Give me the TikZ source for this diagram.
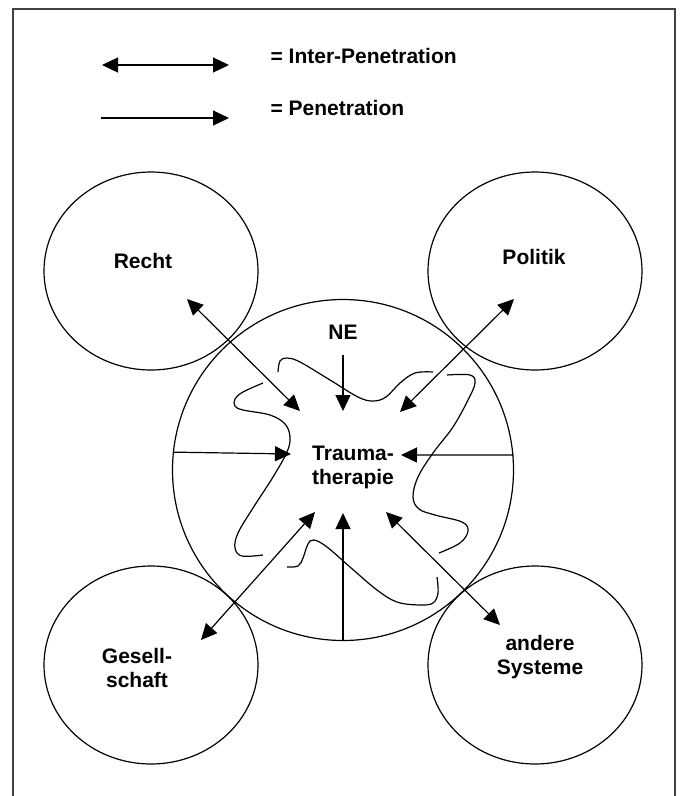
\documentclass[tikz,border=0pt]{standalone}
\usepackage{fontspec}
\setmainfont{Liberation Sans}
\usetikzlibrary{arrows.meta}
\usetikzlibrary{shapes.geometric}
\tikzset{pen/.style = {-{Triangle[length=16pt, width=15pt]}}}
\tikzset{twopen/.style = {{Triangle[length=16pt, width=15pt]}-{Triangle[length=16pt, width=15pt]}}}
\tikzset{sys/.style = {draw, ellipse, minimum width = 214pt, minimum height = 198pt, inner sep = 0}}
\tikzset{word/.style = {font = \bfseries\fontsize{21}{24}\selectfont, align = center, inner sep = 0}}
\tikzset{wave/.style = {smooth, tension = 0.6}}

\begin{document}
\begin{tikzpicture}[x = 1pt, y = -1pt, line width = 1.2pt]
  \useasboundingbox (0, 0) rectangle (680, 796);
  \draw [line width = 1.8pt, black!75] (13, 800) -- (13, 9) -- (675, 9) -- (675, 800);

  \coordinate (legInA) at (102, 65);
  \coordinate (legInB) at (229, 65);
  \coordinate (legPenA) at (101, 118);
  \coordinate (legPenB) at (229, 118);
  \draw [twopen] (legInA) -- (legInB);
  \draw [pen] (legPenA) -- (legPenB);
  \node [word, anchor = west] (inter) at (270, 56) {= Inter-Penetration};
  \node [word, anchor = west] (pene) at (270, 108) {= Penetration};

  \node [sys] (recht) at (151, 271) {};
  \node [sys] (politik) at (535, 271) {};
  \node [sys] (gesellschaft) at (151, 665) {};
  \node [sys] (andere) at (535, 665) {};
  \node [draw, circle, minimum size = 341pt, inner sep = 0] (trauma) at (343, 470) {};

  \node [word] (rechtText) at (143, 261) {Recht};
  \node [word] (politikText) at (534, 257) {Politik};
  \node [word] (gesText) at (137, 668) {Gesell-\\schaft};
  \node [word] (andereText) at (540, 657) {andere\\Systeme};
  \node [word] (traumaText) at (353, 467) {Trauma-\\therapie};
  \node [word] (ne) at (343, 332) {NE};

  \coordinate (rechtEnd) at (187, 299);
  \coordinate (rechtIn) at (300, 411);
  \coordinate (politikEnd) at (514, 299);
  \coordinate (politikIn) at (400, 412);
  \coordinate (gesEnd) at (201, 640);
  \coordinate (gesIn) at (315, 512);
  \coordinate (andereEnd) at (500, 625);
  \coordinate (andereIn) at (386, 512);
  \coordinate (neStart) at (343, 355);
  \coordinate (neIn) at (343, 411);
  \coordinate (leftIn) at (291, 454);
  \coordinate (rightIn) at (401, 455);
  \coordinate (bottomIn) at (343, 513);

  \draw [twopen] (rechtEnd) -- (rechtIn);
  \draw [twopen] (politikEnd) -- (politikIn);
  \draw [twopen] (gesEnd) -- (gesIn);
  \draw [twopen] (andereEnd) -- (andereIn);
  \draw [pen] (neStart) -- (neIn);
  \draw [pen] (trauma.174.6) -- (leftIn);
  \draw [pen] (trauma.5.4) -- (rightIn);
  \draw [pen] (trauma.south) -- (bottomIn);

  \draw plot [wave] coordinates {(278, 372) (280, 361) (287, 358) (300, 362) (330, 380) (358, 397)
    (373, 401) (386, 397) (400, 383) (415, 373) (433, 372)};
  \draw plot [wave] coordinates {(447, 375) (470, 375) (475, 383) (468, 400) (453, 427) (433, 453)
    (418, 477) (413, 497) (419, 509) (435, 515) (462, 522) (468, 531) (460, 543) (439, 553)};
  \draw plot [wave] coordinates {(437, 577) (438, 593) (433, 603) (420, 605) (397, 602) (377, 590)
    (350, 567) (327, 547) (314, 540) (308, 544) (303, 558) (298, 566) (287, 567)};
  \draw plot [wave] coordinates {(263, 555) (242, 556) (235, 548) (238, 533) (253, 508) (273, 477)
    (287, 452) (290, 437) (285, 424) (270, 415) (243, 410) (235, 406) (235, 399) (243, 392) (263, 383)};
\end{tikzpicture}
\end{document}
